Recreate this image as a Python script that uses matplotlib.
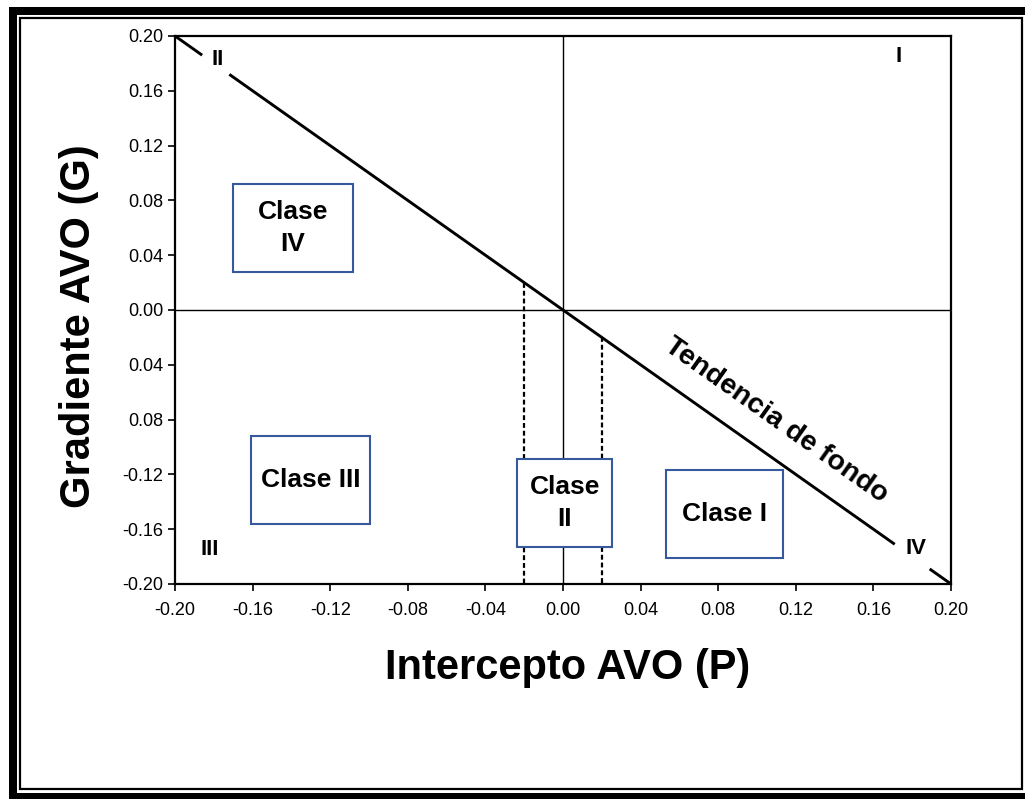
import matplotlib
matplotlib.use("Agg")
import matplotlib.pyplot as plt
from matplotlib.patches import Rectangle
import numpy as np

plt.rcParams['font.family'] = ['Liberation Sans', 'DejaVu Sans']

# ---- data ----
x_ticks = [-0.20, -0.16, -0.12, -0.08, -0.04, 0.00, 0.04, 0.08, 0.12, 0.16, 0.20]
x_tick_labels = ["-0.20", "-0.16", "-0.12", "-0.08", "-0.04", "0.00", "0.04", "0.08", "0.12", "0.16", "0.20"]
y_ticks = [0.20, 0.16, 0.12, 0.08, 0.04, 0.00, -0.04, -0.08, -0.12, -0.16, -0.20]
y_tick_labels = ["0.20", "0.16", "0.12", "0.08", "0.04", "0.00", "0.04", "0.08", "-0.12", "-0.16", "-0.20"]

# background trend segments (G = -P), broken at the quadrant labels
trend_segments_x = [(-0.20, -0.186), (-0.172, 0.171), (0.189, 0.20)]
# dotted limits of class II
class2_limits_x = [-0.02, 0.02]
class2_limits_top = [0.02, -0.02]

quadrant_labels = ["I", "II", "III", "IV"]
quadrant_x = [0.173, -0.178, -0.182, 0.182]
quadrant_y = [0.185, 0.183, -0.175, -0.174]

class_names = ["Clase\nIV", "Clase III", "Clase\nII", "Clase I"]
class_x0 = [-0.170, -0.161, -0.0235, 0.053]
class_x1 = [-0.1085, -0.0995, 0.0255, 0.1135]
class_y0 = [0.028, -0.156, -0.173, -0.181]
class_y1 = [0.092, -0.092, -0.109, -0.117]

W, H = 1025, 799
fig = plt.figure(figsize=(W / 100, H / 100), dpi=100)
fig.patch.set_facecolor('white')

def fx(px):
    return px / W

def fy(py):
    return 1 - py / H

# ---- outer frame ----
fig.patches.append(Rectangle((fx(9), fy(799)), fx(17) - fx(9), fy(7) - fy(799),
                             transform=fig.transFigure, facecolor='black', edgecolor='none'))
fig.patches.append(Rectangle((fx(9), fy(15)), fx(1025) - fx(9), fy(7) - fy(15),
                             transform=fig.transFigure, facecolor='black', edgecolor='none'))
fig.patches.append(Rectangle((fx(9), fy(799)), fx(1025) - fx(9), fy(793) - fy(799),
                             transform=fig.transFigure, facecolor='black', edgecolor='none'))
fig.patches.append(Rectangle((fx(20), fy(789)), fx(1022) - fx(20), fy(18) - fy(789),
                             transform=fig.transFigure, facecolor='none', edgecolor='black', lw=1.6))

# ---- axes ----
ax = fig.add_axes([175 / W, 1 - 584 / H, 776 / W, 548 / H])
ax.set_xlim(-0.20, 0.20)
ax.set_ylim(-0.20, 0.20)
for s in ax.spines.values():
    s.set_linewidth(1.6)
    s.set_color('black')

ax.set_xticks(x_ticks)
ax.set_xticklabels(x_tick_labels, fontsize=13)
ax.set_yticks(y_ticks)
ax.set_yticklabels(y_tick_labels, fontsize=13)
ax.tick_params(axis='x', direction='out', length=5, width=1.2, pad=8)
ax.tick_params(axis='y', direction='out', length=5, width=1.2, pad=3.5)

# quadrant cross lines
ax.axhline(0, color='black', lw=1.0)
ax.axvline(0, color='black', lw=1.0)

# background trend
for (a, b) in trend_segments_x:
    ax.plot([a, b], [-a, -b], color='black', lw=2.1, solid_capstyle='butt')

# class II dotted limits
for xv, yt in zip(class2_limits_x, class2_limits_top):
    ax.plot([xv, xv], [yt, -0.20], color='black', lw=1.6, dashes=(2.2, 1.3))

# quadrant labels
for t, x, y in zip(quadrant_labels, quadrant_x, quadrant_y):
    ax.text(x, y, t, fontsize=16, fontweight='bold', ha='center', va='center')

# class boxes
for name, x0, x1, y0, y1 in zip(class_names, class_x0, class_x1, class_y0, class_y1):
    ax.add_patch(Rectangle((x0, y0), x1 - x0, y1 - y0, facecolor='white',
                           edgecolor='#35599a', lw=1.5, zorder=3))
    ax.text((x0 + x1) / 2, (y0 + y1) / 2, name, fontsize=19, fontweight='bold',
            ha='center', va='center', zorder=4, linespacing=1.4)

# trend label, rotated to follow the line on screen
fig.canvas.draw()
p1 = ax.transData.transform((-0.2, 0.2))
p2 = ax.transData.transform((0.2, -0.2))
ang = np.degrees(np.arctan2(p2[1] - p1[1], p2[0] - p1[0]))
ax.text(0.1098, -0.0803, "Tendencia de fondo", fontsize=20.5, fontweight='bold',
        rotation=ang, rotation_mode='anchor', ha='center', va='center')

# axis labels
fig.text(568 / W, 1 - 668 / H, "Intercepto AVO (P)", fontsize=30, fontweight='bold',
         ha='center', va='center')
fig.text(79 / W, 1 - 326 / H, "Gradiente AVO (G)", fontsize=30, fontweight='bold',
         ha='center', va='center', rotation=90)

fig.savefig("out.png", dpi=100, facecolor='white')
